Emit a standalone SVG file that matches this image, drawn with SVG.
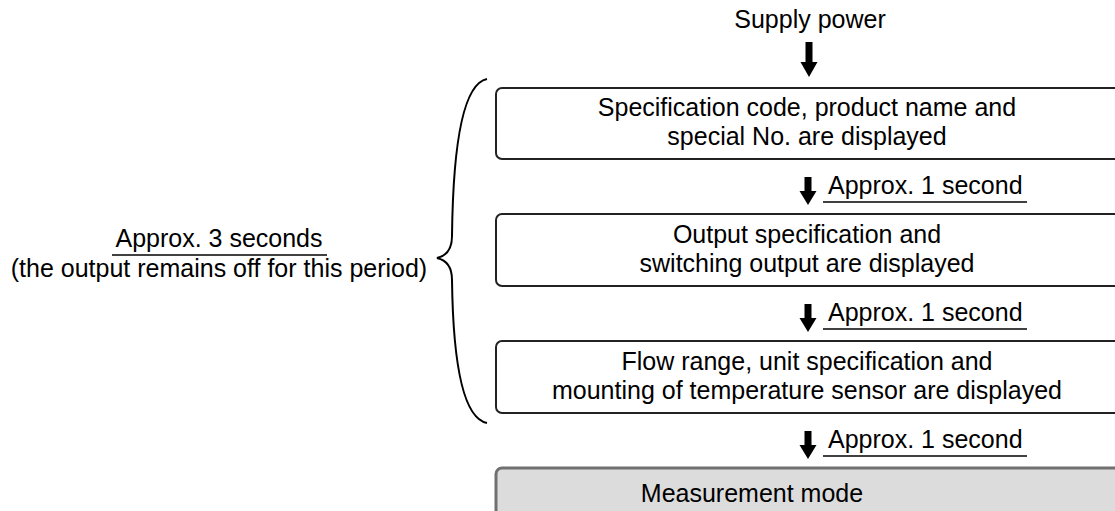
<svg xmlns="http://www.w3.org/2000/svg" width="1115" height="511" viewBox="0 0 1115 511">
  <style>
    text { font-family: "Liberation Sans", Arial, sans-serif; font-size: 25px; fill: #000; }
    .c { text-anchor: middle; }
    .box { fill: #fff; stroke: #222; stroke-width: 2; }
    .mbox { fill: #dcdcdc; stroke: #707070; stroke-width: 3; }
    .ul { stroke: #000; stroke-width: 1.5; }
    .arrow { fill: #000; }
    .brace { fill: none; stroke: #000; stroke-width: 2; }
  </style>
  <defs>
    <path id="arr" d="M-3.5,-28 L3.5,-28 L3.5,-14 L8.5,-14 L0,0 L-8.5,-14 L-3.5,-14 Z"/>
  </defs>

  <g id="supply-power">
    <text class="c" x="810" y="28">Supply power</text>
  </g>

  <g id="box-spec">
    <rect class="box" x="496" y="88" width="640" height="71" rx="6"/>
    <text class="c" x="807" y="116">Specification code, product name and</text>
    <text class="c" x="807" y="145">special No. are displayed</text>
  </g>

  <g id="box-output">
    <rect class="box" x="496" y="214" width="640" height="72" rx="6"/>
    <text class="c" x="807" y="243">Output specification and</text>
    <text class="c" x="807" y="272">switching output are displayed</text>
  </g>

  <g id="box-flow">
    <rect class="box" x="496" y="341" width="640" height="72" rx="6"/>
    <text class="c" x="807" y="370">Flow range, unit specification and</text>
    <text class="c" x="807" y="399">mounting of temperature sensor are displayed</text>
  </g>

  <g id="box-measure">
    <rect class="mbox" x="496" y="468" width="640" height="70" rx="6"/>
    <text class="c" x="752" y="502">Measurement mode</text>
  </g>

  <g id="period-label">
    <path class="brace" d="M487,79 C462,84 453,150 452,236 C452,250 446,256 437,258 C446,260 452,266 452,280 C453,358 462,418 487,423"/>
    <text class="c" x="219" y="247">Approx. 3 seconds</text>
    <line class="ul" x1="112" y1="255" x2="327" y2="255"/>
    <text class="c" x="219" y="277">(the output remains off for this period)</text>
  </g>

  <g id="connectors">
    <path class="arrow" d="M805.5,42 L812.5,42 L812.5,62 L817.5,62 L809,77 L800.5,62 L805.5,62 Z"/>
    <use href="#arr" class="arrow" transform="translate(808,205)"/>
    <text x="828" y="194">Approx. 1 second</text>
    <line class="ul" x1="823" y1="202" x2="1027" y2="202"/>
    <use href="#arr" class="arrow" transform="translate(808,332)"/>
    <text x="828" y="321">Approx. 1 second</text>
    <line class="ul" x1="823" y1="329" x2="1027" y2="329"/>
    <use href="#arr" class="arrow" transform="translate(808,459)"/>
    <text x="828" y="448">Approx. 1 second</text>
    <line class="ul" x1="823" y1="456" x2="1027" y2="456"/>
  </g>
</svg>
